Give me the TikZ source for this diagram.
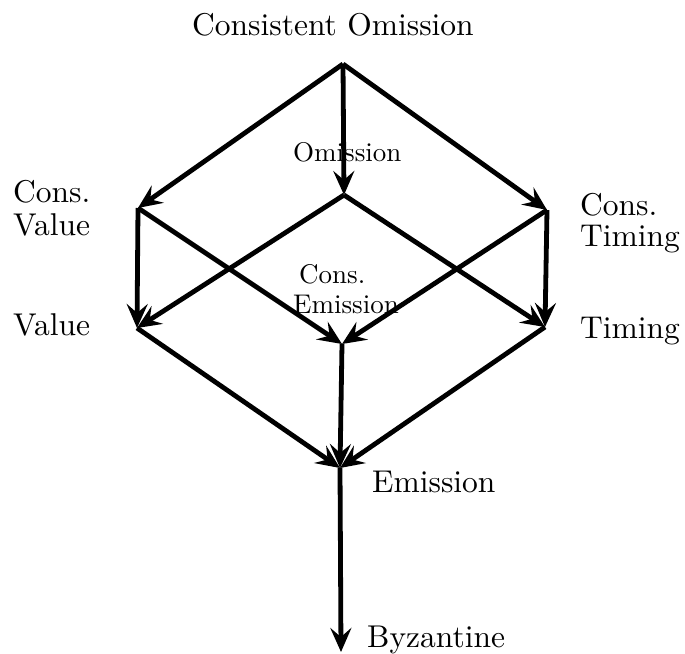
\documentclass[tikz,border=0pt]{standalone}
\usepackage{fontspec}
\setmainfont{lmroman10-regular}[Extension=.otf]
\usetikzlibrary{arrows.meta}
\begin{document}
\begin{tikzpicture}[x=1pt,y=-1pt,
  edge/.style={line width=4.8pt,line join=miter,-{Stealth[length=24pt,width=21pt,inset=9pt]}},
  big/.style={inner sep=0pt,anchor=base west,font=\fontsize{31.5}{36}\selectfont},
  small/.style={inner sep=0pt,anchor=base west,font=\fontsize{27}{32}\selectfont}]
\useasboundingbox (0,0) rectangle (685,653);
\coordinate (CO) at (343,64);
\coordinate (CV) at (138,208);
\coordinate (O)  at (344,195);
\coordinate (CT) at (547,210);
\coordinate (V)  at (137,328);
\coordinate (CE) at (342,344);
\coordinate (T)  at (545,327);
\coordinate (E)  at (340,468);
\coordinate (B)  at (341,652);
\draw[edge] (CO) -- (CV);
\draw[edge] (CO) -- (O);
\draw[edge] (CO) -- (CT);
\draw[edge] (CV) -- (V);
\draw[edge] (CV) -- (CE);
\draw[edge] (O) -- (V);
\draw[edge] (O) -- (T);
\draw[edge] (CT) -- (CE);
\draw[edge] (CT) -- (T);
\draw[edge] (V) -- (E);
\draw[edge] (CE) -- (E);
\draw[edge] (T) -- (E);
\draw[edge] (E) -- (B);
\node[big] (lCO) at (192,35) {Consistent Omission};
\node[big] (lCVa) at (13,202) {Cons.};
\node[big] (lCVb) at (13,235) {Value};
\node[big] (lV) at (13,335) {Value};
\node[big] (lCTa) at (580,215) {Cons.};
\node[big] (lCTb) at (580,246) {Timing};
\node[big] (lT) at (580,338) {Timing};
\node[big] (lE) at (372,492) {Emission};
\node[big] (lB) at (367,647) {Byzantine};
\node[small] (lO) at (293,161) {Omission};
\node[small] (lCEa) at (299,283) {Cons.};
\node[small] (lCEb) at (293,313) {Emission};
\end{tikzpicture}
\end{document}
